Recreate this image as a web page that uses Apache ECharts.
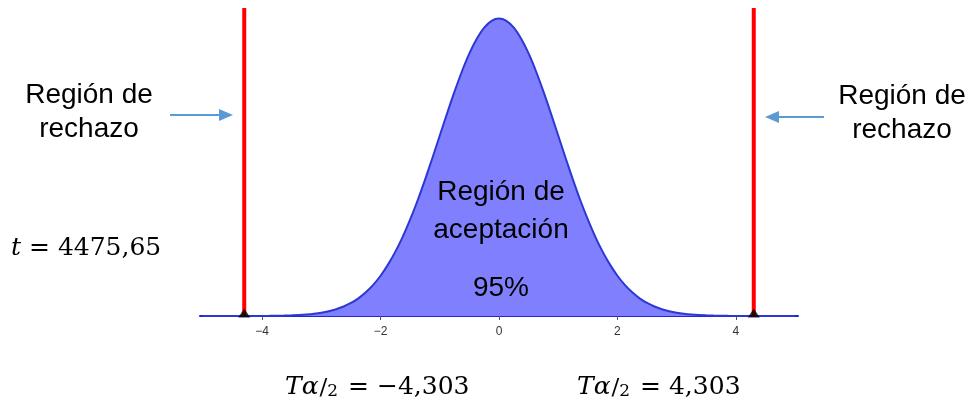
<!DOCTYPE html>
<html>
<head>
<meta charset="utf-8">
<script src="https://cdn.jsdelivr.net/npm/echarts@6/dist/echarts.min.js"></script>
<style>
html,body{margin:0;padding:0;background:#fff;}
#c{width:976px;height:411px;}
</style>
</head>
<body>
<div id="c"></div>
<script>
// ---- data ----
const xValues = [-5, -4.875, -4.75, -4.625, -4.5, -4.375, -4.25, -4.125, -4, -3.875, -3.75, -3.625, -3.5, -3.375, -3.25, -3.125,
  -3, -2.875, -2.75, -2.625, -2.5, -2.375, -2.25, -2.125, -2, -1.875, -1.75, -1.625, -1.5, -1.375, -1.25, -1.125,
  -1, -0.875, -0.75, -0.625, -0.5, -0.375, -0.25, -0.125, 0, 0.125, 0.25, 0.375, 0.5, 0.625, 0.75, 0.875,
  1, 1.125, 1.25, 1.375, 1.5, 1.625, 1.75, 1.875, 2, 2.125, 2.25, 2.375, 2.5, 2.625, 2.75, 2.875,
  3, 3.125, 3.25, 3.375, 3.5, 3.625, 3.75, 3.875, 4, 4.125, 4.25, 4.375, 4.5, 4.625, 4.75, 4.875, 5];
const density = [0.0000, 0.0000, 0.0000, 0.0000, 0.0000, 0.0000, 0.0001, 0.0001, 0.0001, 0.0002, 0.0004, 0.0006, 0.0009, 0.0013, 0.0020, 0.0030,
  0.0044, 0.0064, 0.0091, 0.0127, 0.0175, 0.0237, 0.0317, 0.0417, 0.0540, 0.0689, 0.0863, 0.1065, 0.1295, 0.1549, 0.1826, 0.2119,
  0.2420, 0.2721, 0.3011, 0.3282, 0.3521, 0.3718, 0.3867, 0.3958, 0.3989, 0.3958, 0.3867, 0.3718, 0.3521, 0.3282, 0.3011, 0.2721,
  0.2420, 0.2119, 0.1826, 0.1549, 0.1295, 0.1065, 0.0863, 0.0689, 0.0540, 0.0417, 0.0317, 0.0237, 0.0175, 0.0127, 0.0091, 0.0064,
  0.0044, 0.0030, 0.0020, 0.0013, 0.0009, 0.0006, 0.0004, 0.0002, 0.0001, 0.0001, 0.0001, 0.0000, 0.0000, 0.0000, 0.0000, 0.0000, 0.0000];
const criticalValues = [-4.303, 4.303];
const tickLabels = [-4, -2, 0, 2, 4];
const tStatistic = '4475,65';
const criticalText = ['\u22124,303', '4,303'];

const Y_MAX = 0.413;
const chart = echarts.init(document.getElementById('c'), null, {renderer: 'canvas'});

const curveData = xValues.map((x, i) => [x, density[i]]);
const critSeries = criticalValues.map(v => ({
  type: 'line',
  data: [[v, 0], [v, Y_MAX]],
  symbol: 'none',
  lineStyle: {color: '#ff0000', width: 4},
  z: 5,
  silent: true
}));

const sans = 'Liberation Sans, Arial, sans-serif';
const serif = 'DejaVu Serif, Liberation Serif, serif';

function mathText(x, y, value) {
  return {
    type: 'text', x: x, y: y, z: 100,
    style: {
      text: '{it|T\u03B1}{sl|/}{sub|2}{n| = ' + value + '}',
      rich: {
        it: {fontFamily: serif, fontStyle: 'italic', fontSize: 25, fill: '#000', verticalAlign: 'bottom', lineHeight: 36},
        sl: {fontFamily: serif, fontSize: 23, fill: '#000', verticalAlign: 'bottom', lineHeight: 36, padding: [6, 0, 0, 1]},
        sub: {fontFamily: serif, fontSize: 17, fill: '#000', verticalAlign: 'bottom', lineHeight: 36, padding: [16, 2, 0, 0]},
        n: {fontFamily: serif, fontSize: 25, fill: '#000', verticalAlign: 'bottom', lineHeight: 36}
      }
    }
  };
}

function arrow(x1, x2, y) {
  const dir = x2 > x1 ? 1 : -1;
  const head = 14;
  return [
    {type: 'line', z: 100, shape: {x1: x1, y1: y, x2: x2 - dir * head, y2: y}, style: {stroke: '#5b9bd5', lineWidth: 2}},
    {type: 'polygon', z: 100, shape: {points: [[x2, y], [x2 - dir * head, y - 6], [x2 - dir * head, y + 6]]}, style: {fill: '#5b9bd5'}}
  ];
}

function centered(text, cx, cy, lh) {
  return {type: 'text', x: cx, y: cy, z: 100,
    style: {text: text, font: '28px ' + sans, fill: '#000', align: 'center', verticalAlign: 'middle', lineHeight: lh}};
}

const option = {
  backgroundColor: '#ffffff',
  animation: false,
  grid: {left: 200, right: 178, top: 8, bottom: 95},
  xAxis: {
    type: 'value',
    min: -5.05,
    max: 5.05,
    splitLine: {show: false},
    axisLine: {show: true, onZero: false, lineStyle: {color: '#2323d8', width: 2}},
    axisTick: {show: true, customValues: tickLabels, length: 4, inside: false, lineStyle: {color: '#555', width: 1}},
    axisLabel: {
      customValues: tickLabels,
      margin: 10,
      fontSize: 12,
      color: '#333',
      fontFamily: sans,
      formatter: v => String(v).replace('-', '\u2212')
    }
  },
  yAxis: {
    type: 'value', min: 0, max: Y_MAX, show: false,
    splitLine: {show: false}
  },
  series: [
    {
      type: 'line',
      data: curveData,
      smooth: 0.3,
      symbol: 'none',
      lineStyle: {color: '#2b38d4', width: 2},
      areaStyle: {color: '#8080ff', opacity: 1},
      z: 2,
      silent: true
    },
    ...critSeries,
    {
      type: 'scatter',
      data: criticalValues.map(v => [v, 0]),
      symbol: 'triangle',
      symbolSize: [12, 9],
      symbolOffset: [0, -3],
      itemStyle: {color: '#000'},
      z: 10,
      silent: true
    }
  ],
  graphic: [
    centered('Región de\nrechazo', 89, 112, 34),
    centered('Región de\nrechazo', 902, 113, 34),
    centered('Región de\naceptación', 501, 211, 38),
    centered('95%', 501, 288, 30),
    {
      type: 'text', x: 11, y: 236, z: 100,
      style: {
        text: '{it|t}{n| = ' + tStatistic + '}',
        rich: {
          it: {fontFamily: serif, fontStyle: 'italic', fontSize: 25, fill: '#000'},
          n: {fontFamily: serif, fontSize: 25, fill: '#000'}
        }
      }
    },
    mathText(285, 364, criticalText[0]),
    mathText(577, 364, criticalText[1]),
    ...arrow(170, 233, 115),
    ...arrow(824, 765, 117)
  ]
};
chart.setOption(option);
</script>
</body>
</html>
